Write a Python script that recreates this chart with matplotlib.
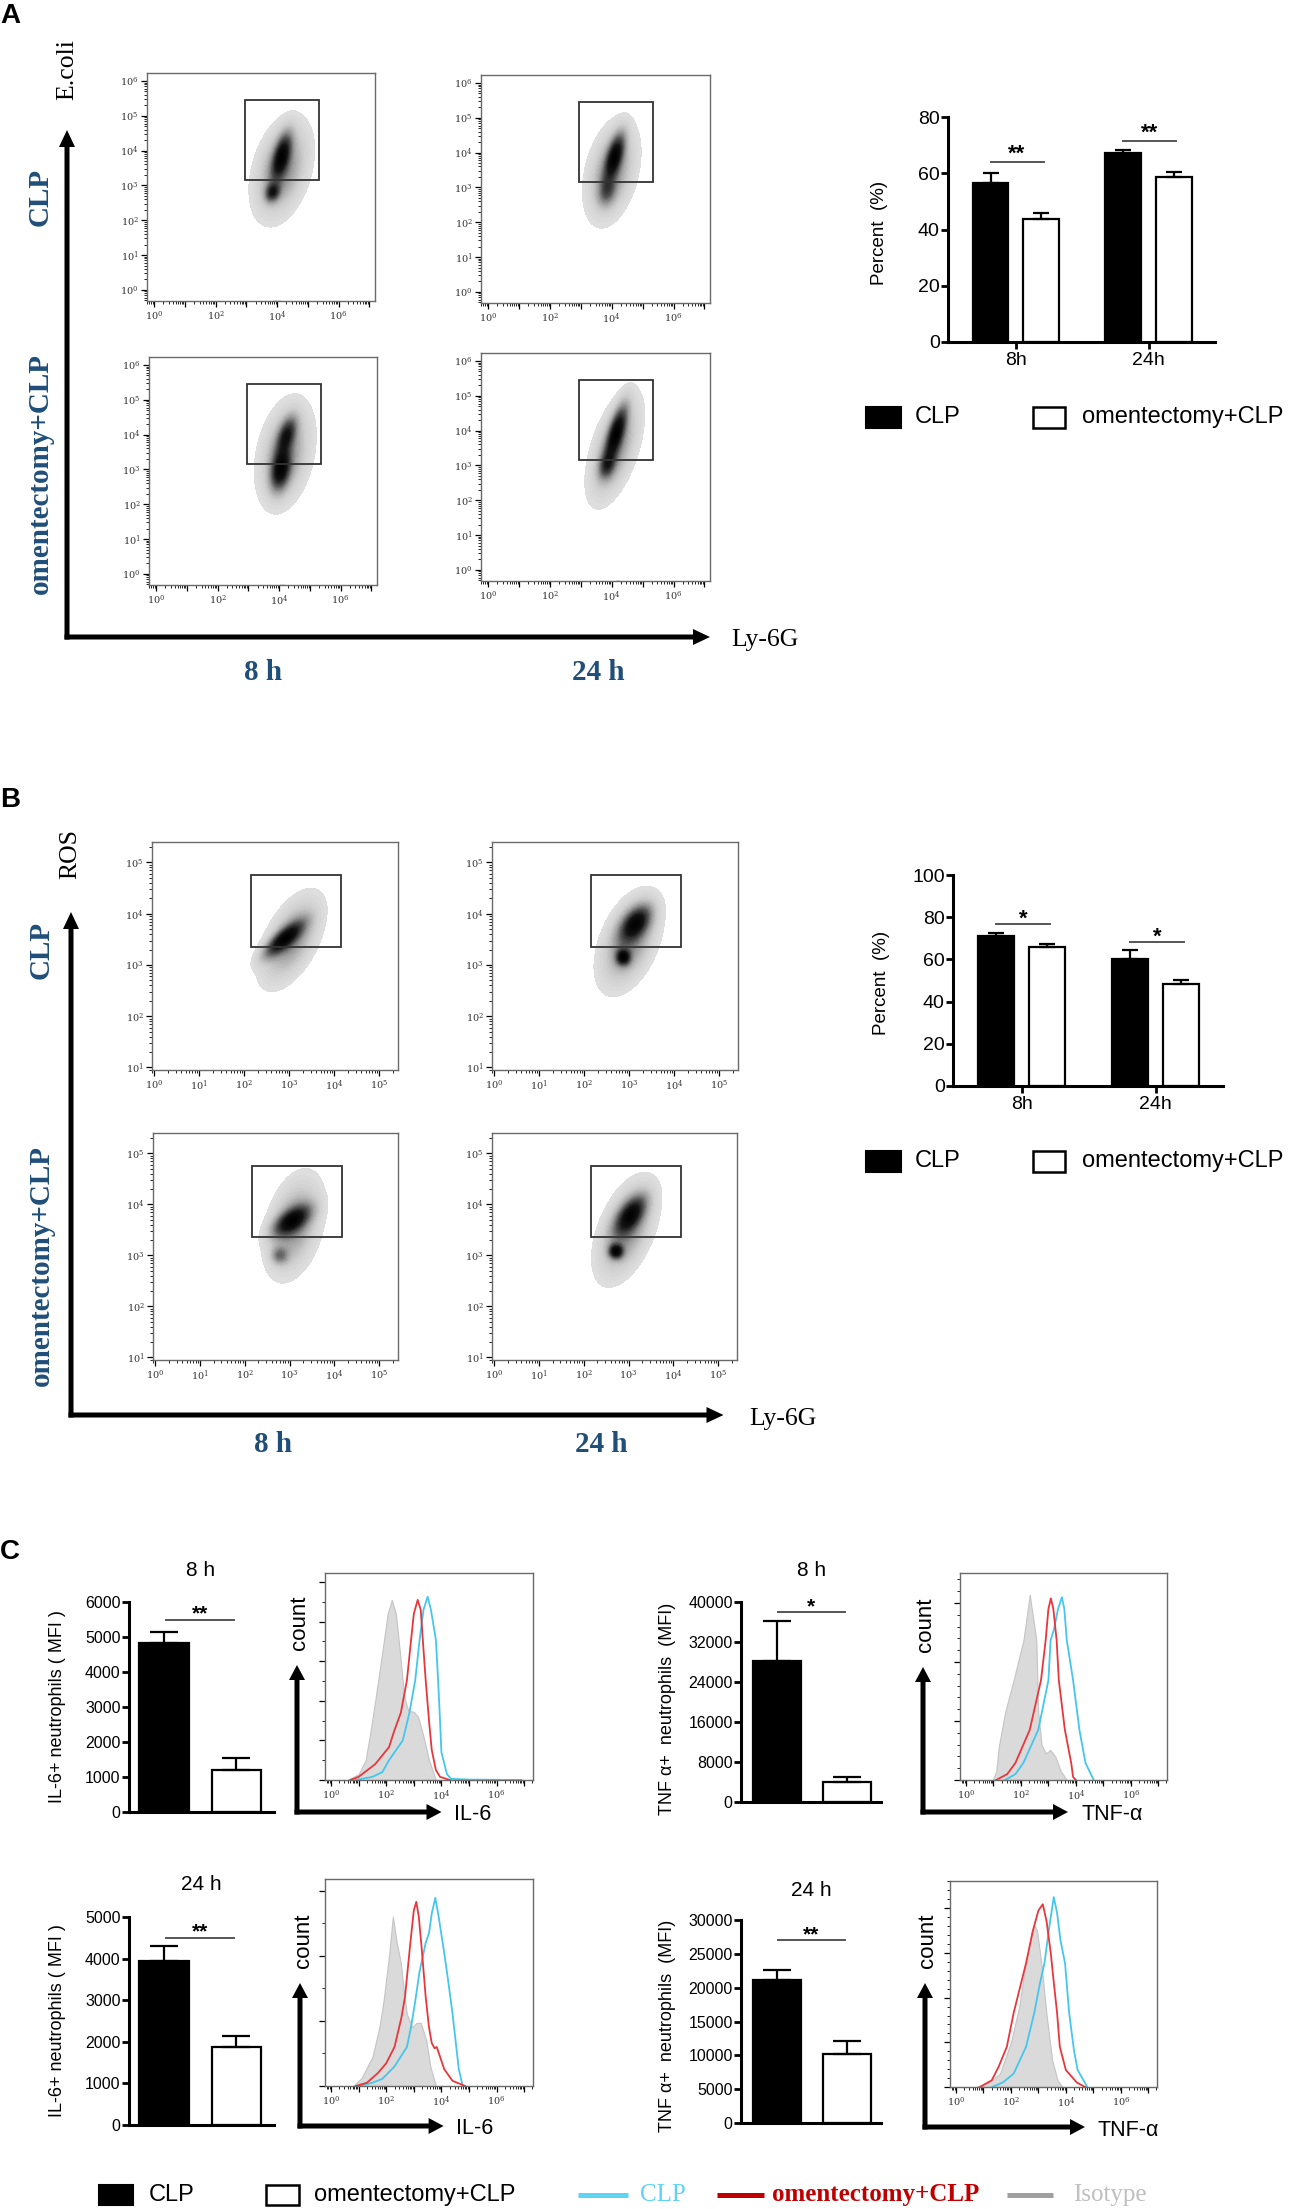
import numpy as np
import matplotlib
matplotlib.use("Agg")
import matplotlib.pyplot as plt
from matplotlib.patches import FancyArrow, Rectangle
from matplotlib.colors import LinearSegmentedColormap
from matplotlib.ticker import LogLocator, FuncFormatter, NullFormatter, MultipleLocator

plt.rcParams['font.family'] = ['Liberation Sans', 'DejaVu Sans']
plt.rcParams['mathtext.fontset'] = 'dejavuserif'

# ---------------- data ----------------
groups = ["8h", "24h"]

# A: E.coli+ neutrophils (%)
a_clp = [56.6, 67.1]
a_clp_err = [3.6, 1.2]
a_omx = [43.8, 58.8]
a_omx_err = [2.1, 1.6]
a_sig = ["**", "**"]
a_sig_line = [64.0, 71.6]
a_sig_star = [69.3, 77.0]

# B: ROS+ neutrophils (%)
b_clp = [71.1, 60.2]
b_clp_err = [1.3, 4.2]
b_omx = [65.8, 48.3]
b_omx_err = [1.4, 1.9]
b_sig = ["*", "*"]
b_sig_line = [76.8, 68.2]
b_sig_star = [82.5, 73.9]

# C: MFI, [CLP, omentectomy+CLP]
il6_8h = [4830, 1200]
il6_8h_err = [313, 343]
il6_24h = [3940, 1875]
il6_24h_err = [360, 265]
tnf_8h = [28200, 4000]
tnf_8h_err = [8000, 1000]
tnf_24h = [21180, 10150]
tnf_24h_err = [1470, 1910]

# gate percentages [row CLP, row omentectomy+CLP] x [8 h, 24 h]
a_pct = [[56.1, 66.4], [43.6, 58.5]]
b_pct = [[70.6, 59.5], [65.2, 47.8]]
# gates in log10 units: x0, x1, y0, y1
a_gate = (2.95, 5.35, 3.15, 5.45)
b_gate = (2.16, 4.16, 3.36, 4.75)

# density blobs: (log cx, log cy, sd x, sd y, corr, weight)
a_blobs = [
    [[(4.15, 3.45, 0.52, 0.80, 0.35, 0.50), (4.15, 3.85, 0.20, 0.42, 0.55, 0.90),
      (3.85, 2.80, 0.15, 0.17, 0.20, 0.70), (4.00, -0.35, 0.25, 0.10, 0.0, 0.07)],
     [(4.00, 3.45, 0.47, 0.80, 0.35, 0.50), (4.10, 3.90, 0.20, 0.42, 0.60, 1.00),
      (3.85, 2.90, 0.18, 0.27, 0.20, 0.45), (4.20, -0.35, 0.20, 0.10, 0.0, 0.06)]],
    [[(4.20, 3.45, 0.50, 0.85, 0.30, 0.50), (4.25, 4.00, 0.20, 0.33, 0.50, 0.75),
      (4.05, 3.00, 0.20, 0.38, 0.30, 1.00), (4.10, -0.35, 0.30, 0.10, 0.0, 0.07)],
     [(4.10, 3.50, 0.48, 0.87, 0.55, 0.50), (4.15, 3.95, 0.22, 0.50, 0.70, 1.00),
      (3.85, 3.00, 0.17, 0.25, 0.30, 0.55), (4.20, -0.35, 0.25, 0.10, 0.0, 0.07)]],
]
b_blobs = [
    [[(3.05, 3.49, 0.39, 0.50, 0.55, 0.50), (2.88, 3.50, 0.28, 0.22, 0.80, 1.00)],
     [(3.00, 3.45, 0.38, 0.52, 0.45, 0.50), (3.15, 3.82, 0.22, 0.22, 0.50, 0.90),
      (2.87, 3.15, 0.10, 0.10, 0.0, 0.90)]],
    [[(3.10, 3.58, 0.36, 0.56, 0.35, 0.50), (3.05, 3.68, 0.27, 0.19, 0.60, 1.00),
      (2.78, 3.00, 0.12, 0.11, 0.0, 0.45)],
     [(2.95, 3.50, 0.38, 0.55, 0.50, 0.50), (3.05, 3.80, 0.22, 0.24, 0.60, 0.90),
      (2.72, 3.08, 0.10, 0.09, 0.0, 1.00)]],
]

# histograms: x = log10 intensity, y = count
il6_8h_iso_x = [0.6, 1.0, 1.25, 1.4, 1.6, 1.85, 2.05, 2.2, 2.35, 2.5, 2.65, 2.8, 3.0, 3.15, 3.35, 3.55, 3.8]
il6_8h_iso_y = [0, 15, 50, 110, 200, 320, 420, 455, 420, 320, 210, 175, 172, 160, 110, 50, 0]
il6_8h_clp_x = [0.9, 1.5, 1.86, 2.1, 2.6, 2.84, 3.05, 3.21, 3.35, 3.5, 3.62, 3.8, 3.88, 3.95, 4.0, 4.2, 4.35, 5.0, 6.9]
il6_8h_clp_y = [0, 8, 20, 50, 100, 170, 252, 354, 430, 463, 430, 354, 252, 150, 70, 15, 3, 1, 0]
il6_8h_omx_x = [0.7, 1.0, 1.6, 2.1, 2.3, 2.53, 2.75, 2.9, 3.0, 3.14, 3.25, 3.35, 3.43, 3.55, 3.65, 3.8, 3.95, 4.3]
il6_8h_omx_y = [0, 8, 40, 83, 126, 170, 252, 354, 420, 455, 430, 330, 252, 150, 76, 25, 8, 0]

il6_24h_iso_x = [0.8, 1.1, 1.26, 1.5, 1.75, 1.9, 2.1, 2.24, 2.38, 2.53, 2.65, 2.75, 2.95, 3.1, 3.25, 3.45, 3.6, 3.8]
il6_24h_iso_y = [0, 12, 25, 45, 90, 130, 200, 260, 220, 189, 140, 110, 90, 97, 97, 70, 30, 0]
il6_24h_clp_x = [1.0, 1.5, 1.86, 2.3, 2.75, 2.9, 3.05, 3.2, 3.43, 3.55, 3.65, 3.78, 3.9, 4.1, 4.25, 4.4, 4.63, 4.77]
il6_24h_clp_y = [0, 5, 11, 30, 60, 91, 130, 174, 220, 235, 265, 289, 260, 205, 160, 112, 26, 0]
il6_24h_omx_x = [0.9, 1.3, 1.7, 2.0, 2.3, 2.55, 2.68, 2.86, 3.0, 3.09, 3.18, 3.28, 3.43, 3.55, 3.65, 3.75, 3.83, 3.95, 4.1, 4.4, 4.86]
il6_24h_omx_y = [0, 5, 20, 35, 60, 105, 137, 214, 270, 283, 260, 214, 137, 90, 66, 58, 60, 45, 26, 8, 0]

tnf_8h_iso_x = [0.97, 1.1, 1.19, 1.42, 1.73, 2.09, 2.32, 2.56, 2.63, 2.75, 2.9, 3.07, 3.25, 3.45, 3.67]
tnf_8h_iso_y = [0, 15, 56, 114, 169, 237, 314, 237, 114, 60, 45, 51, 40, 15, 0]
tnf_8h_clp_x = [1.42, 1.8, 2.09, 2.63, 3.0, 3.08, 3.2, 3.35, 3.49, 3.58, 3.67, 3.9, 4.13, 4.35, 4.65]
tnf_8h_clp_y = [0, 10, 29, 85, 169, 237, 255, 290, 310, 290, 237, 169, 85, 29, 0]
tnf_8h_omx_x = [1.1, 1.5, 1.8, 2.32, 2.73, 2.9, 3.0, 3.09, 3.18, 3.3, 3.38, 3.6, 3.83, 3.9, 4.0]
tnf_8h_omx_y = [0, 10, 29, 85, 169, 237, 290, 308, 290, 237, 169, 85, 29, 5, 0]

tnf_24h_iso_x = [0.73, 1.2, 1.6, 2.0, 2.3, 2.55, 2.75, 2.85, 2.95, 3.1, 3.3, 3.5, 3.7, 3.87]
tnf_24h_iso_y = [0, 10, 30, 100, 180, 280, 345, 362, 350, 280, 160, 60, 15, 0]
tnf_24h_clp_x = [1.32, 1.7, 2.1, 2.55, 2.85, 3.05, 3.22, 3.4, 3.56, 3.68, 3.8, 3.97, 4.12, 4.3, 4.43, 4.78]
tnf_24h_clp_y = [0, 10, 30, 90, 166, 230, 277, 360, 425, 390, 330, 277, 166, 80, 38, 0]
tnf_24h_omx_x = [0.87, 1.3, 1.55, 1.85, 2.1, 2.55, 2.8, 3.0, 3.16, 3.3, 3.45, 3.55, 3.68, 3.78, 4.0, 4.4, 4.7]
tnf_24h_omx_y = [0, 15, 45, 90, 166, 277, 350, 395, 409, 370, 300, 240, 166, 90, 38, 10, 0]

# ---------------- figure ----------------
W, H = 1295, 2209
fig = plt.figure(figsize=(W / 100, H / 100), dpi=100)
ov = fig.add_axes([0, 0, 1, 1])
ov.set_xlim(0, W)
ov.set_ylim(H, 0)
ov.axis('off')

BLUE = '#1F4E79'
NUMRED = '#CC1111'
CYAN = '#45C6EC'
RED = '#E8373C'
SERIF = ['Liberation Serif', 'DejaVu Serif']

flow_cmap = LinearSegmentedColormap.from_list(
    'flow', [(0, '#e0e0e0'), (0.12, '#cccccc'), (0.3, '#979797'),
             (0.5, '#525252'), (0.75, '#141414'), (1, '#000000')])


def px_axes(l, t, r, b):
    return fig.add_axes([l / W, 1 - b / H, (r - l) / W, (b - t) / H])


def arrow(x0, y0, x1, y1, w=5, hw=16, hl=17):
    ov.add_patch(FancyArrow(x0, y0, x1 - x0, y1 - y0, width=w, head_width=hw,
                            head_length=hl, length_includes_head=True,
                            color='black', lw=0))


def dec_label(v, even):
    e = int(round(np.log10(v)))
    if even and e % 2:
        return ''
    return r'$10^{%d}$' % e


def log_ticks(ax, even_x, do_y=True):
    axes_list = [ax.xaxis, ax.yaxis] if do_y else [ax.xaxis]
    for a in axes_list:
        a.set_major_locator(LogLocator(base=10, numticks=30))
        a.set_minor_locator(LogLocator(base=10, subs=np.arange(2, 10), numticks=300))
        a.set_minor_formatter(NullFormatter())
    ax.xaxis.set_major_formatter(FuncFormatter(lambda v, p: dec_label(v, even_x)))
    if do_y:
        ax.yaxis.set_major_formatter(FuncFormatter(lambda v, p: dec_label(v, False)))
    ax.tick_params(which='major', length=4, width=0.9, labelsize=7,
                   labelcolor='#333333', pad=2)
    ax.tick_params(which='minor', length=2, width=0.6)
    for s in ax.spines.values():
        s.set_color('#6a6a6a')
        s.set_linewidth(1.0)


def flow_plot(rect, xr, yr, comps, gate, pct, num_xy, even_x):
    ax = px_axes(*rect)
    ax.set_xscale('log')
    ax.set_yscale('log')
    gx = np.linspace(xr[0], xr[1], 300)
    gy = np.linspace(yr[0], yr[1], 300)
    X, Y = np.meshgrid(gx, gy)
    Z = np.zeros_like(X)
    for cx, cy, sx, sy, rho, w in comps:
        u = (X - cx) / sx
        v = (Y - cy) / sy
        Z += w * np.exp(-(u * u - 2 * rho * u * v + v * v) / (2 * (1 - rho * rho)))
    Z /= Z.max()
    ax.contourf(10 ** X, 10 ** Y, Z, levels=np.linspace(0.045, 1, 40), cmap=flow_cmap)
    ax.set_xlim(10 ** xr[0], 10 ** xr[1])
    ax.set_ylim(10 ** yr[0], 10 ** yr[1])
    x0, x1, y0, y1 = gate
    ax.add_patch(Rectangle((10 ** x0, 10 ** y0), 10 ** x1 - 10 ** x0, 10 ** y1 - 10 ** y0,
                           fill=False, ec='#333333', lw=1.3, zorder=5))
    log_ticks(ax, even_x)
    ov.text(num_xy[0], num_xy[1], f'{pct}', color=NUMRED, fontsize=17,
            family=['Lato', 'DejaVu Sans'], ha='right', va='center')
    return ax


# ---------------- panel A flow plots ----------------
a_rects = [[(147, 73, 375, 301), (481, 75, 710, 303)],
           [(149, 357, 377, 585), (481, 353, 710, 581)]]
a_num_xy = [[(360, 88), (680, 88)], [(364, 372), (680, 368)]]
for r in range(2):
    for c in range(2):
        flow_plot(a_rects[r][c], (-0.23, 7.18), (-0.32, 6.23), a_blobs[r][c],
                  a_gate, a_pct[r][c], a_num_xy[r][c], True)

# ---------------- panel B flow plots ----------------
b_rects = [[(152, 842, 398, 1070), (492, 842, 738, 1070)],
           [(153, 1133, 398, 1360), (492, 1133, 737, 1360)]]
b_num_xy = [[(386, 863), (726, 863)], [(383, 1152), (725, 1152)]]
for r in range(2):
    for c in range(2):
        flow_plot(b_rects[r][c], (-0.05, 5.42), (0.95, 5.4), b_blobs[r][c],
                  b_gate, b_pct[r][c], b_num_xy[r][c], False)


# ---------------- bar charts ----------------
def style_bar_axes(ax, tick_fs):
    for s in ('top', 'right'):
        ax.spines[s].set_visible(False)
    for s in ('left', 'bottom'):
        ax.spines[s].set_linewidth(2.2)
        ax.spines[s].set_color('black')
    ax.tick_params(axis='y', length=5, width=2.0, labelsize=tick_fs, pad=1)
    ax.tick_params(axis='x', length=5, width=2.0, labelsize=tick_fs, pad=2)


def sig(ax, x0, x1, yline, ystar, s, fs):
    ax.plot([x0, x1], [yline, yline], color='#555555', lw=1.4, clip_on=False)
    ax.annotate(s, ((x0 + x1) / 2, ystar), xytext=(0, -0.58 * fs), textcoords='offset points',
                ha='center', va='baseline', fontsize=fs, fontweight='bold', annotation_clip=False)


def group_bars(rect, clp, clp_err, omx, omx_err, ymax, line_y, star_y, marks):
    ax = px_axes(*rect)
    pos = np.arange(len(groups))
    w = 0.27
    ax.bar(pos - 0.19, clp, w, color='black', edgecolor='black', lw=1.6)
    ax.bar(pos + 0.19, omx, w, color='white', edgecolor='black', lw=1.6)
    ax.errorbar(pos - 0.19, clp, yerr=[np.zeros(2), clp_err], fmt='none', ecolor='black',
                elinewidth=1.6, capsize=6, capthick=1.6)
    ax.errorbar(pos + 0.19, omx, yerr=[np.zeros(2), omx_err], fmt='none', ecolor='black',
                elinewidth=1.6, capsize=6, capthick=1.6)
    for i in range(2):
        sig(ax, pos[i] - 0.19, pos[i] + 0.21, line_y[i], star_y[i], marks[i], 16)
    ax.set_xlim(-0.51, 1.5)
    ax.set_ylim(0, ymax)
    ax.set_yticks(np.arange(0, ymax + 1, 20))
    ax.set_xticks(pos)
    ax.set_xticklabels(groups)
    style_bar_axes(ax, 14)
    return ax


group_bars((948, 117, 1215, 342), a_clp, a_clp_err, a_omx, a_omx_err, 80,
           a_sig_line, a_sig_star, a_sig)
group_bars((953, 875, 1223, 1086), b_clp, b_clp_err, b_omx, b_omx_err, 100,
           b_sig_line, b_sig_star, b_sig)


def pair_bars(rect, vals, errs, ymax, ystep, line_y, star_y, mark, xl):
    ax = px_axes(*rect)
    pos = np.array([0, 1])
    ax.bar(pos, vals, 0.69, color=['black', 'white'], edgecolor='black', lw=1.6)
    ax.errorbar(pos, vals, yerr=[np.zeros(2), errs], fmt='none', ecolor='black',
                elinewidth=1.6, capsize=10, capthick=1.6)
    sig(ax, 0.02, 0.97, line_y, star_y, mark, 15)
    ax.set_xlim(*xl)
    ax.set_ylim(0, ymax)
    ax.set_yticks(np.arange(0, ymax + 1, ystep))
    ax.set_xticks([])
    style_bar_axes(ax, 11.5)
    return ax


pair_bars((129, 1602, 274, 1812), il6_8h, il6_8h_err, 6000, 1000, 5486, 5857, '**', (-0.49, 1.52))
pair_bars((129, 1917, 274, 2125), il6_24h, il6_24h_err, 5000, 1000, 4495, 4808, '**', (-0.49, 1.52))
pair_bars((741, 1602, 881, 1802), tnf_8h, tnf_8h_err, 40000, 8000, 38000, 40400, '*', (-0.51, 1.49))
pair_bars((741, 1920, 881, 2123), tnf_24h, tnf_24h_err, 30000, 5000, 27060, 28824, '**', (-0.51, 1.49))


# ---------------- histograms ----------------
def hist_plot(rect, iso, clp, omx, ymax, ymin_step):
    ax = px_axes(*rect)
    ax.set_xscale('log')
    ax.fill_between(10 ** np.array(iso[0]), iso[1], color='#dadada', ec='#c4c4c4', lw=0.8)
    ax.plot(10 ** np.array(clp[0]), clp[1], color=CYAN, lw=1.3)
    ax.plot(10 ** np.array(omx[0]), omx[1], color=RED, lw=1.3)
    ax.set_xlim(10 ** -0.22, 10 ** 7.32)
    ax.set_ylim(0, ymax)
    log_ticks(ax, True, do_y=False)
    ax.yaxis.set_major_locator(MultipleLocator(100))
    ax.yaxis.set_minor_locator(MultipleLocator(ymin_step))
    ax.tick_params(axis='y', labelleft=False)
    return ax


hist_plot((325, 1573, 533, 1780), (il6_8h_iso_x, il6_8h_iso_y), (il6_8h_clp_x, il6_8h_clp_y),
          (il6_8h_omx_x, il6_8h_omx_y), 523, 50)
hist_plot((325, 1879, 533, 2086), (il6_24h_iso_x, il6_24h_iso_y), (il6_24h_clp_x, il6_24h_clp_y),
          (il6_24h_omx_x, il6_24h_omx_y), 318, 50)
hist_plot((960, 1573, 1167, 1780), (tnf_8h_iso_x, tnf_8h_iso_y), (tnf_8h_clp_x, tnf_8h_clp_y),
          (tnf_8h_omx_x, tnf_8h_omx_y), 351, 20)
hist_plot((950, 1881, 1157, 2087), (tnf_24h_iso_x, tnf_24h_iso_y), (tnf_24h_clp_x, tnf_24h_clp_y),
          (tnf_24h_omx_x, tnf_24h_omx_y), 461, 20)

# ---------------- annotations (overlay, pixel coordinates) ----------------
for s, y in (('A', 16), ('B', 800), ('C', 1552)):
    ov.text(0, y, s, fontsize=20, fontweight='bold', ha='left', va='center')

# A axes arrows and labels
arrow(67, 639.5, 67, 130)
arrow(64.5, 637, 710, 637)
ov.text(67, 70, 'E.coli', rotation=90, family=SERIF, fontsize=18.5, ha='center', va='center')
ov.text(731, 640, 'Ly-6G', family=SERIF, fontsize=18.5, ha='left', va='center')
ov.text(40, 197, 'CLP', rotation=90, family=SERIF, fontsize=21, fontweight='bold', color=BLUE,
        ha='center', va='center')
ov.text(40, 473, 'omentectomy+CLP', rotation=90, family=SERIF, fontsize=21, fontweight='bold',
        color=BLUE, ha='center', va='center')
ov.text(263, 672, '8 h', family=SERIF, fontsize=21, fontweight='bold', color=BLUE, ha='center', va='center')
ov.text(598, 672, '24 h', family=SERIF, fontsize=21, fontweight='bold', color=BLUE, ha='center', va='center')

# B axes arrows and labels
arrow(71, 1417.5, 71, 912)
arrow(68.5, 1415, 723.5, 1415)
ov.text(70, 854, 'ROS', rotation=90, family=SERIF, fontsize=18.5, ha='center', va='center')
ov.text(749, 1419, 'Ly-6G', family=SERIF, fontsize=18.5, ha='left', va='center')
ov.text(41, 950, 'CLP', rotation=90, family=SERIF, fontsize=21, fontweight='bold', color=BLUE,
        ha='center', va='center')
ov.text(41, 1265, 'omentectomy+CLP', rotation=90, family=SERIF, fontsize=21, fontweight='bold',
        color=BLUE, ha='center', va='center')
ov.text(273, 1445, '8 h', family=SERIF, fontsize=21, fontweight='bold', color=BLUE, ha='center', va='center')
ov.text(601, 1445, '24 h', family=SERIF, fontsize=21, fontweight='bold', color=BLUE, ha='center', va='center')

# bar chart y labels and legends for A and B
ov.text(879, 233, 'Percent  (%)', rotation=90, fontsize=13.5, ha='center', va='center')
ov.text(881, 983, 'Percent  (%)', rotation=90, fontsize=13.5, ha='center', va='center')
for yc in (417, 1161):
    ov.add_patch(Rectangle((866, yc - 10.5), 35, 21, fc='black', ec='black', lw=1.5))
    ov.text(915, yc, 'CLP', fontsize=17, ha='left', va='center')
    ov.add_patch(Rectangle((1033, yc - 10.5), 32, 21, fc='white', ec='black', lw=1.8))
    ov.text(1082, yc, 'omentectomy+CLP', fontsize=17, ha='left', va='center')

# C labels
ov.text(58, 1707, 'IL-6+ neutrophils ( MFI )', rotation=90, fontsize=13, ha='center', va='center')
ov.text(58, 2021, 'IL-6+ neutrophils ( MFI )', rotation=90, fontsize=13, ha='center', va='center')
ov.text(668, 1709, 'TNF \u03b1+  neutrophils  (MFI)', rotation=90, fontsize=13, ha='center', va='center')
ov.text(668, 2026, 'TNF \u03b1+  neutrophils  (MFI)', rotation=90, fontsize=13, ha='center', va='center')
ov.text(201, 1570, '8 h', fontsize=15, ha='center', va='center')
ov.text(812, 1570, '8 h', fontsize=15, ha='center', va='center')
ov.text(201, 1885, '24 h', fontsize=15, ha='center', va='center')
ov.text(811, 1890, '24 h', fontsize=15, ha='center', va='center')

# histogram arrows
for vx, by, tip_y, tip_x, lab, lab_x in ((297, 1812, 1665, 441.5, 'IL-6', 454),
                                        (923, 1812, 1667, 1068, 'TNF-\u03b1', 1081),
                                        (300, 2126, 1983, 443.6, 'IL-6', 456),
                                        (925, 2127, 1983, 1085, 'TNF-\u03b1', 1097)):
    arrow(vx, by + 2.5, vx, tip_y, w=5, hw=16, hl=15)
    arrow(vx - 2.5, by, tip_x, by, w=5, hw=16, hl=15)
    ov.text(lab_x, by + 3, lab, fontsize=15.5, ha='left', va='center')
    ov.text(vx + 3, tip_y - 42, 'count', rotation=90, fontsize=16, ha='center', va='center')

# C legend
ly = 2195
ov.add_patch(Rectangle((99, ly - 10), 34, 20, fc='black', ec='black', lw=1.5))
ov.text(149, ly, 'CLP', fontsize=17, ha='left', va='center')
ov.add_patch(Rectangle((266, ly - 10), 33, 20, fc='white', ec='black', lw=1.8))
ov.text(314, ly, 'omentectomy+CLP', fontsize=17, ha='left', va='center')
ov.plot([578, 628], [ly, ly], color='#5FD3F3', lw=3.6, solid_capstyle='butt')
ov.text(640, ly, 'CLP', family=SERIF, fontsize=18, color='#5FD3F3', ha='left', va='center')
ov.plot([717, 764], [ly, ly], color='#C00000', lw=3.6, solid_capstyle='butt')
ov.text(772, ly, 'omentectomy+CLP', family=SERIF, fontsize=18, fontweight='bold', color='#C00000',
        ha='left', va='center')
ov.plot([1007, 1053], [ly, ly], color='#A0A0A0', lw=3.6, solid_capstyle='butt')
ov.text(1073, ly, 'Isotype', family=SERIF, fontsize=18, color='#BFBFBF', ha='left', va='center')

fig.savefig('out.png', dpi=100)
